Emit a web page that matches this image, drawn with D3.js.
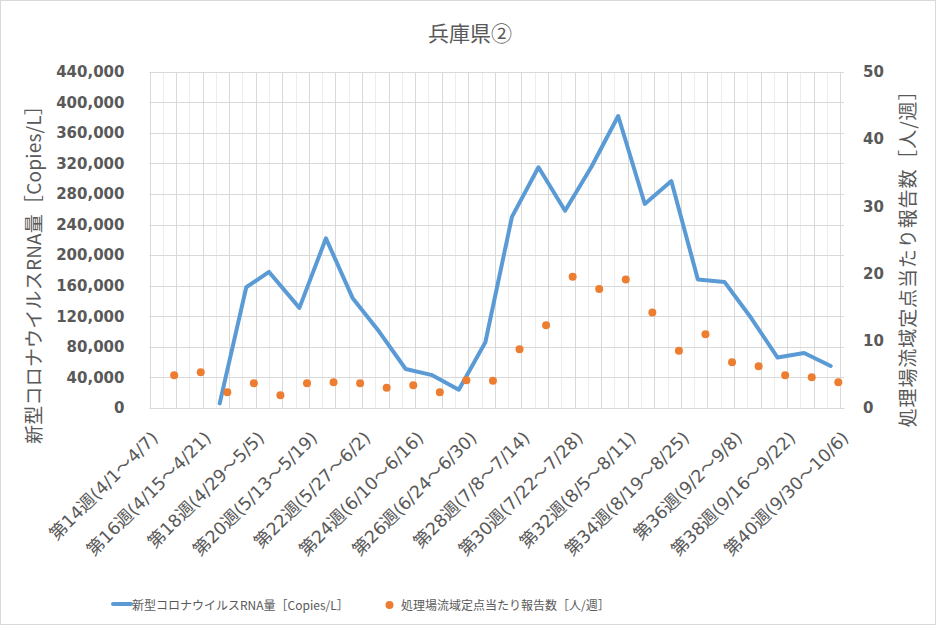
<!DOCTYPE html>
<html><head><meta charset="utf-8">
<script src="https://cdn.jsdelivr.net/npm/d3@7"></script>
<style>
body{margin:0;background:#fff}
svg text{font-family:"Noto Sans CJK JP","Noto Sans",sans-serif;fill:#595959}
</style>
</head><body>
<svg id="chart" width="940" height="628"></svg>
<script>
const chartTitle = "兵庫県②";
const leftAxisTitle = "新型コロナウイルスRNA量［Copies/L］";
const rightAxisTitle = "処理場流域定点当たり報告数［人/週］";
const tickLabels = ["第14週(4/1～4/7)","第16週(4/15～4/21)","第18週(4/29～5/5)","第20週(5/13～5/19)","第22週(5/27～6/2)","第24週(6/10～6/16)","第26週(6/24～6/30)","第28週(7/8～7/14)","第30週(7/22～7/28)","第32週(8/5～8/11)","第34週(8/19～8/25)","第36週(9/2～9/8)","第38週(9/16～9/22)","第40週(9/30～10/6)"];
const tickDates = ["2024-04-01","2024-04-15","2024-04-29","2024-05-13","2024-05-27","2024-06-10","2024-06-24","2024-07-08","2024-07-22","2024-08-05","2024-08-19","2024-09-02","2024-09-16","2024-09-30"];
const rnaDates = ["2024-04-19","2024-04-26","2024-05-02","2024-05-10","2024-05-17","2024-05-24","2024-05-31","2024-06-07","2024-06-14","2024-06-21","2024-06-28","2024-07-05","2024-07-12","2024-07-19","2024-07-26","2024-08-02","2024-08-09","2024-08-16","2024-08-23","2024-08-30","2024-09-06","2024-09-13","2024-09-20","2024-09-27"];
const rnaValues = [6000,158000,178000,131000,222000,144000,100000,51000,43000,24000,86000,250000,315000,258000,316000,382000,267000,297000,168000,165000,118000,66000,72000,55000];
const reportDates = ["2024-04-07","2024-04-14","2024-04-21","2024-04-28","2024-05-05","2024-05-12","2024-05-19","2024-05-26","2024-06-02","2024-06-09","2024-06-16","2024-06-23","2024-06-30","2024-07-07","2024-07-14","2024-07-21","2024-07-28","2024-08-04","2024-08-11","2024-08-18","2024-08-25","2024-09-01","2024-09-08","2024-09-15","2024-09-22","2024-09-29"];
const reportValues = [4.86,5.31,2.33,3.67,1.89,3.67,3.82,3.67,3.02,3.37,2.33,4.12,4.06,8.73,12.3,19.5,17.7,19.1,14.2,8.5,10.96,6.8,6.2,4.86,4.56,3.82];
const leftTicks = [0,40000,80000,120000,160000,200000,240000,280000,320000,360000,400000,440000];
const rightTicks = [0,10,20,30,40,50];

const parse = d3.timeParse("%Y-%m-%d");
const mid = d => d3.timeHour.offset(parse(d), 12);
const svg = d3.select("#chart");

const L = 149.5, R = 844, T = 71.7, B = 408;
const domainStart = parse("2024-04-01"), domainEnd = parse("2024-10-01");
const x = d3.scaleTime().domain([domainStart, domainEnd]).range([L, R]);
const yL = d3.scaleLinear().domain([0, 440000]).range([B, T]);
const yR = d3.scaleLinear().domain([0, 50]).range([B, T]);

svg.append("rect").attr("x",0.5).attr("y",0.5).attr("width",935).attr("height",624)
  .attr("fill","#fff").attr("stroke","#d9d9d9");

// minor vertical gridlines
const mondays = d3.timeMonday.range(domainStart, domainEnd);
const minors = mondays.map(m => d3.timeHour.offset(m, 84)).filter(d => d < domainEnd);
svg.append("g").selectAll("line").data(minors).join("line")
  .attr("x1", d => Math.round(x(d)) + 0.5).attr("x2", d => Math.round(x(d)) + 0.5)
  .attr("y1", T).attr("y2", B).attr("stroke", "#ededed").attr("stroke-width", 1);
// horizontal gridlines
svg.append("g").selectAll("line").data(leftTicks).join("line")
  .attr("x1", L).attr("x2", R)
  .attr("y1", d => Math.round(yL(d)) + 0.5).attr("y2", d => Math.round(yL(d)) + 0.5)
  .attr("stroke", "#d9d9d9").attr("stroke-width", 1);
// major vertical gridlines
svg.append("g").selectAll("line").data(mondays).join("line")
  .attr("x1", d => Math.round(x(d)) + 0.5).attr("x2", d => Math.round(x(d)) + 0.5)
  .attr("y1", T).attr("y2", B).attr("stroke", "#d9d9d9").attr("stroke-width", 1);

// left axis
const gl = svg.append("g").attr("transform", `translate(${L},0)`)
  .call(d3.axisLeft(yL).tickValues(leftTicks).tickFormat(d3.format(",")).tickSize(0).tickPadding(25));
gl.select(".domain").remove();
gl.selectAll("text").style("font-family","'DejaVu Sans',sans-serif").style("font-weight","bold")
  .style("font-size","15px").attr("fill","#595959");

// right axis
const gr = svg.append("g").attr("transform", `translate(${R},0)`)
  .call(d3.axisRight(yR).tickValues(rightTicks).tickSize(0).tickPadding(19));
gr.select(".domain").remove();
gr.selectAll("text").style("font-family","'DejaVu Sans',sans-serif").style("font-weight","bold")
  .style("font-size","15px").attr("fill","#595959");

// bottom axis
const gb = svg.append("g").attr("transform", `translate(0,${B})`)
  .call(d3.axisBottom(x).tickValues(tickDates.map(parse)).tickSize(0)
    .tickFormat((d, i) => tickLabels[i]));
gb.select(".domain").attr("stroke","#d9d9d9");
gb.selectAll("text").attr("text-anchor","end").attr("x",0).attr("y",0).attr("dy",0)
  .attr("transform","translate(9,31) rotate(-45)")
  .style("font-family","'DejaVu Sans','Noto Sans CJK JP',sans-serif")
  .style("font-size","17.5px").attr("fill","#595959");

// line
const line = d3.line().x((d, i) => x(mid(rnaDates[i]))).y(d => yL(d));
svg.append("path").datum(rnaValues).attr("d", line).attr("fill","none")
  .attr("stroke","#5b9bd5").attr("stroke-width",4).attr("stroke-linejoin","round").attr("stroke-linecap","round");

// dots
svg.append("g").selectAll("circle").data(reportValues).join("circle")
  .attr("cx", (d, i) => x(mid(reportDates[i]))).attr("cy", d => yR(d)).attr("r", 4)
  .attr("fill","#ed7d31");

// title
svg.append("text").attr("x",470).attr("y",32).attr("text-anchor","middle").attr("dominant-baseline","central")
  .style("font-size","21px").text(chartTitle);

// axis titles
svg.append("text").attr("transform","translate(32,270) rotate(-90)").attr("text-anchor","middle")
  .attr("dominant-baseline","central").style("font-size","19px").style("letter-spacing","0.2px").text(leftAxisTitle);
svg.append("text").attr("transform","translate(906,254) rotate(-90)").attr("text-anchor","middle")
  .attr("dominant-baseline","central").style("font-size","19px").style("letter-spacing","0.9px").text(rightAxisTitle);

// legend
const lg = svg.append("g");
lg.append("line").attr("x1",113).attr("x2",131).attr("y1",604).attr("y2",604)
  .attr("stroke","#5b9bd5").attr("stroke-width",4).attr("stroke-linecap","round");
lg.append("text").attr("x",132).attr("y",604).attr("dominant-baseline","central")
  .style("font-size","12px").text("新型コロナウイルスRNA量［Copies/L］");
lg.append("circle").attr("cx",389.5).attr("cy",605).attr("r",4).attr("fill","#ed7d31");
lg.append("text").attr("x",401).attr("y",604).attr("dominant-baseline","central")
  .style("font-size","12px").text("処理場流域定点当たり報告数［人/週］");
</script>
</body></html>
